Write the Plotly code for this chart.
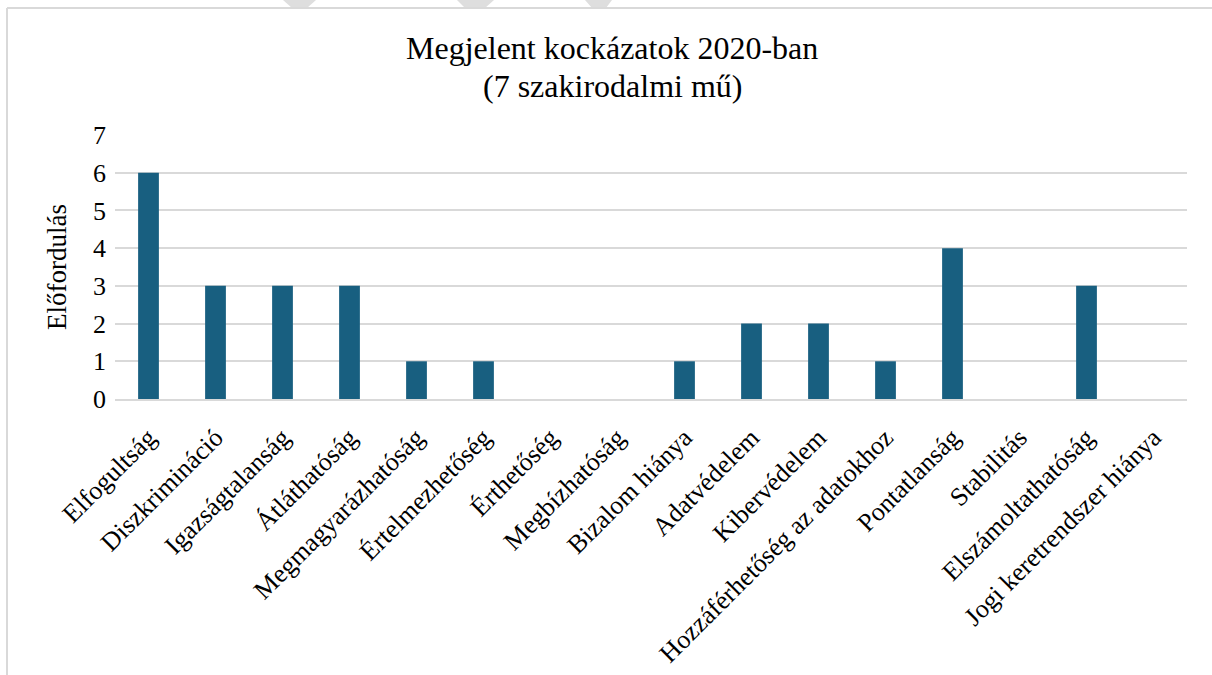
import plotly.graph_objects as go

categories = ["Elfogultság", "Diszkrimináció", "Igazságtalanság", "Átláthatóság",
              "Megmagyarázhatóság", "Értelmezhetőség", "Érthetőség", "Megbízhatóság",
              "Bizalom hiánya", "Adatvédelem", "Kibervédelem", "Hozzáférhetőség az adatokhoz",
              "Pontatlanság", "Stabilitás", "Elszámoltathatóság", "Jogi keretrendszer hiánya"]
values = [6, 3, 3, 3, 1, 1, 0, 0, 1, 2, 2, 1, 4, 0, 3, 0]
title_lines = ["Megjelent kockázatok 2020-ban", "(7 szakirodalmi mű)"]

W, H = 1212, 675
L, R, T, B = 115, 25, 135, 276
pw, ph = W - L - R, H - T - B

def px(x):
    return (x - L) / pw

def py(y):
    return (H - B - y) / ph

fig = go.Figure(go.Bar(x=categories, y=values, marker=dict(color="#185F80", line=dict(width=0)),
                       width=0.31))

font = "Liberation Serif, Times New Roman, serif"
shapes = [
    dict(type="line", xref="paper", yref="paper", x0=px(7), x1=px(7), y0=py(8), y1=py(676),
         line=dict(color="#d9d9d9", width=2)),
    dict(type="line", xref="paper", yref="paper", x0=px(7), x1=px(1212), y0=py(8), y1=py(8),
         line=dict(color="#d9d9d9", width=2)),
]
for (a, b, c, d) in [(283, 316, 307, 292), (457, 494, 485, 465), (585, 612, 606, 592)]:
    shapes.append(dict(type="path", xref="paper", yref="paper",
                       path=f"M {px(a)} {py(0)} L {px(b)} {py(0)} L {px(c)} {py(8)} L {px(d)} {py(8)} Z",
                       fillcolor="#dedede", line=dict(width=0), layer="below"))

annotations = []
for txt, yc in zip(title_lines, [48, 86]):
    annotations.append(dict(text=txt, xref="paper", yref="paper", x=px(W / 2 + 6), y=py(yc),
                            xanchor="center", yanchor="middle", showarrow=False,
                            font=dict(family=font, size=32, color="black")))

fig.update_layout(
    width=W, height=H,
    margin=dict(l=L, r=R, t=T, b=B, autoexpand=False),
    paper_bgcolor="white", plot_bgcolor="white",
    font=dict(family=font, size=20, color="black"),
    bargap=0.69,
    showlegend=False,
    shapes=shapes,
    annotations=annotations,
    xaxis=dict(tickangle=-45, tickfont=dict(size=26), showgrid=False, showline=True,
               linecolor="#d9d9d9", linewidth=2, ticks="", ticklen=0, ticklabelstandoff=11,
               automargin=False),
    yaxis=dict(range=[0, 7], dtick=1, showgrid=True, gridcolor="#d9d9d9", gridwidth=2,
               zeroline=False, showline=False, ticks="", tickfont=dict(size=26),
               ticklabelstandoff=8, automargin=False,
               title=dict(text="Előfordulás", font=dict(size=27), standoff=18)),
)

fig.write_html("out.html")
